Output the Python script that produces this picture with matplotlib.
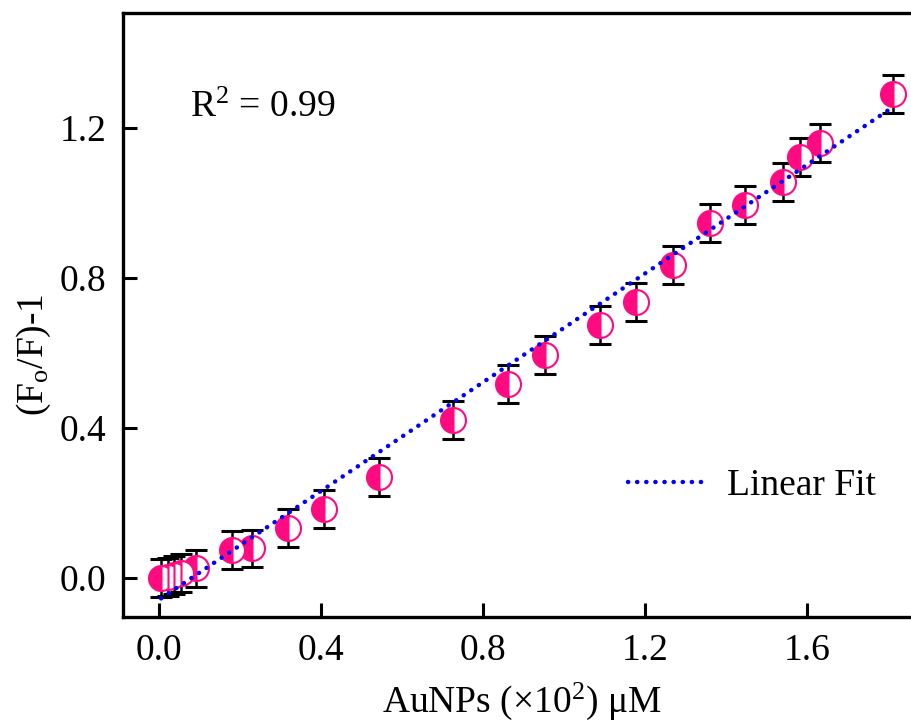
# Stern-Volmer style plot: (Fo/F)-1 vs AuNPs concentration
import matplotlib.pyplot as plt
import numpy as np

# Data
x_conc = [0.005, 0.022, 0.038, 0.055, 0.092, 0.18, 0.23, 0.318, 0.407, 0.543,
          0.726, 0.862, 0.953, 1.089, 1.178, 1.269, 1.360, 1.447, 1.541, 1.583,
          1.632, 1.812]
y_ratio = [0.0, 0.003, 0.008, 0.013, 0.026, 0.075, 0.079, 0.133, 0.184, 0.269,
           0.421, 0.517, 0.595, 0.675, 0.736, 0.835, 0.947, 0.995, 1.056, 1.123,
           1.160, 1.291]
y_err = [0.05] * len(x_conc)

# Linear fit parameters as drawn
fit_slope = 0.725
fit_intercept = -0.058
r_squared = 0.99

x_ticks = [0.0, 0.4, 0.8, 1.2, 1.6]
y_ticks = [0.0, 0.4, 0.8, 1.2]

plt.rcParams['font.family'] = ['Liberation Serif', 'DejaVu Serif']
plt.rcParams['mathtext.fontset'] = 'custom'
plt.rcParams['mathtext.rm'] = 'Liberation Serif'
plt.rcParams['mathtext.it'] = 'Liberation Serif:italic'
plt.rcParams['font.size'] = 27

fig = plt.figure(figsize=(9.11, 7.28), dpi=100)
ax = fig.add_axes([123 / 911, 1 - 617 / 728, 792 / 911, 604 / 728])

# Error bars
ax.errorbar(x_conc, y_ratio, yerr=y_err, fmt='none', ecolor='black',
            elinewidth=1.8, capsize=8, capthick=2.2, zorder=2)
# Half-filled markers
ax.plot(x_conc, y_ratio, linestyle='none', marker='o', markersize=18,
        fillstyle='left', color='#ff0a80', markerfacecoloralt='white',
        markeredgecolor='#ff0a80', markeredgewidth=1.5, zorder=3)

# Linear fit line
x_fit = np.linspace(min(x_conc), max(x_conc), 100)
ax.plot(x_fit, fit_slope * x_fit + fit_intercept, color='#0000ff',
        linewidth=3.2, linestyle=(0, (0.05, 2.0)), dash_capstyle='round',
        label='Linear Fit', zorder=4)

ax.text(0.085, 0.843, f"R$^{{2}}$ = {r_squared:.2f}", transform=ax.transAxes,
        va='center', ha='left')

ax.set_xlim(-0.089, 1.867)
ax.set_ylim(-0.104, 1.507)
ax.set_xticks(x_ticks)
ax.set_yticks(y_ticks)
ax.set_xticklabels([f"{t:.1f}" for t in x_ticks])
ax.set_yticklabels([f"{t:.1f}" for t in y_ticks])
ax.tick_params(direction='in', length=10, width=2.2, pad=12)

for spine in ax.spines.values():
    spine.set_linewidth(2.4)

ax.set_xlabel(r"AuNPs ($\times$10$^{2}$) $\mathrm{\mu}$M")
ax.set_ylabel(r"(F$_{\mathrm{o}}$/F)-1")
ax.xaxis.set_label_coords(0.503, -0.106)
ax.yaxis.set_label_coords(-0.088, 0.434)

ax.legend(loc='center left', bbox_to_anchor=(0.595, 0.217), frameon=False,
          handlelength=2.2, handletextpad=0.45)

plt.savefig("out.png", dpi=100)
